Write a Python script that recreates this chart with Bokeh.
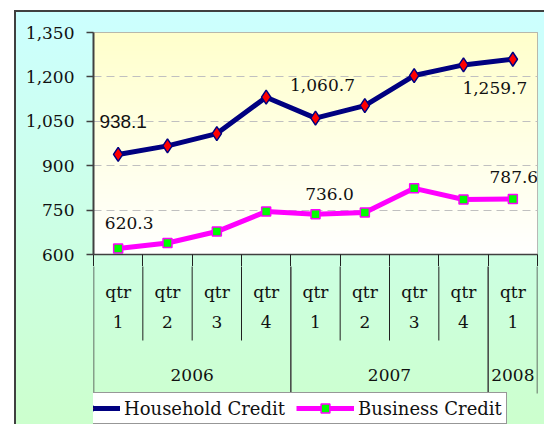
import numpy as np
from bokeh.plotting import figure
from bokeh.layouts import column
from bokeh.models import Range1d, FixedTicker, NumeralTickFormatter, Legend, LegendItem
from bokeh.core.properties import value
from bokeh.embed import file_html
from bokeh.resources import INLINE

# ---------------- data ----------------
years = ["2006", "2006", "2006", "2006", "2007", "2007", "2007", "2007", "2008"]
quarters = ["1", "2", "3", "4", "1", "2", "3", "4", "1"]
household = [938.1, 967.0, 1008.5, 1131.5, 1060.7, 1103.0, 1204.5, 1240.5, 1259.7]
business = [620.3, 639.0, 677.5, 745.0, 736.0, 741.5, 823.5, 786.0, 787.6]
y_ticks = [600, 750, 900, 1050, 1200, 1350]
label_idx = [0, 4, 8]
series_names = ["Household Credit", "Business Credit"]

# ---------------- styles ----------------
SERIF = "DejaVu Serif"
SANS = "Liberation Sans"
NAVY = "#000080"
MAGENTA = "#ff00ff"
DARK = "#404040"
W = 544
EXT = 12                      # part of the category table drawn by the main plot's x axis
HA, HB = 254 + EXT, 170 - EXT
LB, RB, TB = 93, 7, 32
hh_off = [(5, -33), (7, -33), (-18, 29)]
bs_off = [(11, -25), (14, -20), (1, -22)]

n = len(quarters)
xs = [i + 0.5 for i in range(n)]

# ---------------- main plot ----------------
pA = figure(width=W, height=HA, x_range=Range1d(0, n),
            y_range=Range1d(y_ticks[0], y_ticks[-1]),
            toolbar_location=None, output_backend="svg",
            min_border_left=LB, min_border_right=RB, min_border_top=TB, min_border_bottom=EXT,
            border_fill_color=None, background_fill_color="white",
            outline_line_color="#a0a0a0", outline_line_width=1)

ax = pA.yaxis[0]
ax.ticker = FixedTicker(ticks=y_ticks)
ax.formatter = NumeralTickFormatter(format="0,0")
ax.major_label_text_font = SERIF
ax.major_label_text_font_size = "17px"
ax.major_label_text_color = "#111111"
ax.major_tick_out = 7
ax.major_tick_in = 0
ax.minor_tick_out = 0
ax.minor_tick_in = 0
ax.axis_line_color = DARK
ax.axis_line_width = 2
ax.major_tick_line_color = DARK
ax.major_tick_line_width = 1.5
ax.major_label_standoff = 12

# bottom axis: only the category boundary marks, no labels
xax = pA.xaxis[0]
xax.ticker = FixedTicker(ticks=[], minor_ticks=list(range(n + 1)))
xax.major_tick_out = 0
xax.major_tick_in = 0
xax.minor_tick_out = EXT
xax.minor_tick_in = 0
xax.major_label_standoff = 0
xax.axis_line_color = DARK
xax.axis_line_width = 1.5
xax.minor_tick_line_color = "#202020"
xax.minor_tick_line_width = 1

pA.xgrid.visible = False
pA.ygrid.ticker = FixedTicker(ticks=y_ticks[1:-1])
pA.ygrid.grid_line_color = "#c0c0c0"
pA.ygrid.grid_line_dash = "8 5"
pA.ygrid.grid_line_width = 1

# plot-area gradient (pale yellow at top to white at bottom)
N = 222
img = np.empty((N, 1), dtype=np.uint32)
view = img.view(dtype=np.uint8).reshape((N, 1, 4))
t = np.linspace(0, 1, N)
view[:, 0, 0] = 255
view[:, 0, 1] = 255
view[:, 0, 2] = (255 - t * 51).astype(np.uint8)
view[:, 0, 3] = 255
pA.image_rgba(image=[img], x=0, y=y_ticks[0], dw=n, dh=y_ticks[-1] - y_ticks[0], level="image")

pA.line(xs, household, line_color=NAVY, line_width=5)
pA.scatter(xs, household, marker="diamond", size=14, fill_color="#ff0000",
           line_color=NAVY, line_width=1.5)
pA.line(xs, business, line_color=MAGENTA, line_width=5)
pA.scatter(xs, business, marker="square", size=9, fill_color="#00ff00",
           line_color=MAGENTA, line_width=1.5)

# data labels
for k, i in enumerate(label_idx):
    dx, dy = hh_off[k]
    font = SANS if k == 0 else SERIF
    size = "19px" if k == 0 else "17px"
    pA.text([xs[i]], [household[i]], text=[f"{household[i]:,.1f}"],
            x_offset=dx, y_offset=dy, text_align="center", text_baseline="middle",
            text_font=value(font), text_font_size=size, text_color="#111111")
    dx, dy = bs_off[k]
    pA.text([xs[i]], [business[i]], text=[f"{business[i]:,.1f}"],
            x_offset=dx, y_offset=dy, text_align="center", text_baseline="middle",
            text_font=value(SERIF), text_font_size="17px", text_color="#111111")

# ---------------- category table + legend ----------------
# y in pixels below the bottom edge of the plot area
pB = figure(width=W, height=HB, x_range=pA.x_range, y_range=Range1d(HB + EXT, EXT),
            x_axis_location=None, y_axis_location=None, toolbar_location=None,
            output_backend="svg", min_border_left=LB, min_border_right=RB,
            min_border_top=0, min_border_bottom=0,
            border_fill_color=None, background_fill_color=None, outline_line_color=None)
pB.xgrid.visible = False
pB.ygrid.visible = False

year_bounds = [0] + [i for i in range(1, n) if years[i] != years[i - 1]] + [n]
q_bounds = [i for i in range(1, n) if i not in year_bounds]

pB.segment(x0=q_bounds, y0=[0] * len(q_bounds), x1=q_bounds, y1=[86] * len(q_bounds),
           line_color="#202020", line_width=1)
pB.segment(x0=year_bounds, y0=[0] * len(year_bounds), x1=year_bounds,
           y1=[139] * len(year_bounds), line_color=DARK, line_width=1.5)

pB.text(xs, [37] * n, text=["qtr"] * n, text_align="center", text_baseline="middle",
        text_font=value(SERIF), text_font_size="17px", text_color="#111111")
pB.text(xs, [67] * n, text=quarters, text_align="center", text_baseline="middle",
        text_font=value(SERIF), text_font_size="17px", text_color="#111111")

yr_labels, yr_x = [], []
for a, b in zip(year_bounds[:-1], year_bounds[1:]):
    yr_labels.append(years[a])
    yr_x.append((a + b) / 2)
pB.text(yr_x, [120] * len(yr_x), text=yr_labels, text_align="center", text_baseline="middle",
        text_font=value(SERIF), text_font_size="17px", text_color="#111111")

r1 = pB.line([np.nan], [np.nan], line_color=NAVY, line_width=5)
s1 = pB.scatter([np.nan], [np.nan], marker="diamond", fill_color="#ff0000",
                line_color=NAVY, line_width=1.5)
r2 = pB.line([np.nan], [np.nan], line_color=MAGENTA, line_width=5)
s2 = pB.scatter([np.nan], [np.nan], marker="square", fill_color="#00ff00",
                line_color=MAGENTA, line_width=1.5)

leg = Legend(items=[LegendItem(label=series_names[0], renderers=[r1, s1]),
                    LegendItem(label=series_names[1], renderers=[r2, s2])],
             location=(-36, 0), orientation="horizontal", padding=4, spacing=11, margin=0,
             glyph_width=58, glyph_height=22, label_standoff=4,
             label_text_font=SERIF, label_text_font_size="18px", label_text_color="#111111",
             border_line_color="#303030", border_line_width=1,
             background_fill_color="white", background_fill_alpha=1)
pB.add_layout(leg)

bg = ("linear-gradient(#404040,#404040) 14px 10px / 2px 100% no-repeat, "
      "linear-gradient(#404040,#404040) 14px 10px / 100% 2px no-repeat, "
      "linear-gradient(#ccffff,#ccffcc) 14px 10px / 100% 100% no-repeat")
layout = column(pA, pB, spacing=0, styles={"background": bg})

open("out.html", "w").write(file_html(layout, INLINE))
